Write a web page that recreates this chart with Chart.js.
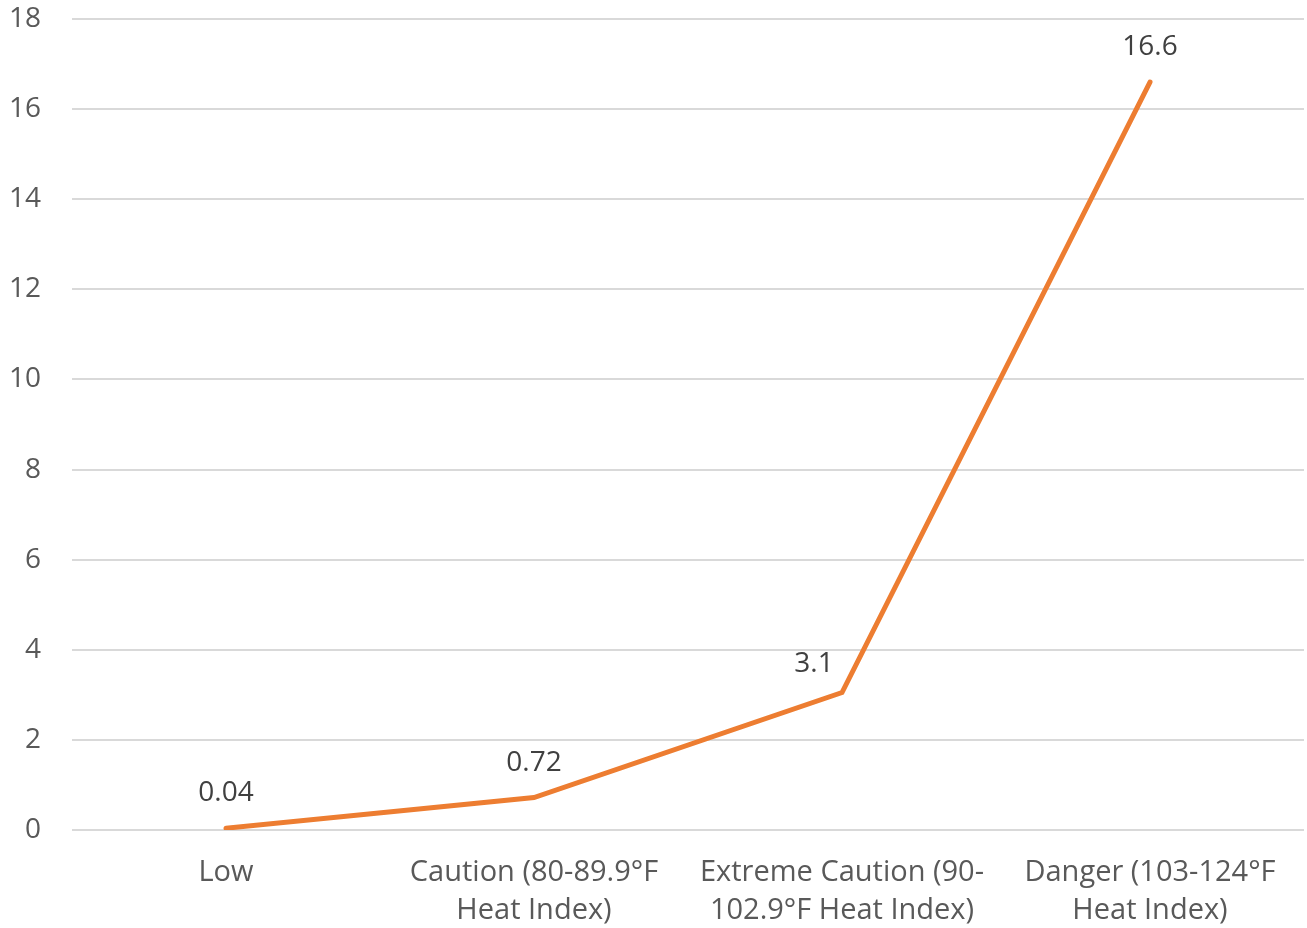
<!DOCTYPE html>
<html>
<head>
<meta charset="utf-8">
<script src="https://cdn.jsdelivr.net/npm/chart.js@4/dist/chart.umd.min.js"></script>
<style>
html,body{margin:0;padding:0;background:#fff;}
#wrap{width:1307px;height:928px;}
</style>
</head>
<body>
<div id="wrap"><canvas id="c" width="1307" height="928"></canvas></div>
<script>
const categories = [
  ["Low"],
  ["Caution (80-89.9°F", "Heat Index)"],
  ["Extreme Caution (90-", "102.9°F Heat Index)"],
  ["Danger (103-124°F", "Heat Index)"]
];
const values = [0.04, 0.72, 3.05, 16.6];
const valueLabels = ["0.04", "0.72", "3.1", "16.6"];
const yMin = 0, yMax = 18, yStep = 2;

const FONT = "'Open Sans', Inter, sans-serif";

const dataLabelPlugin = {
  id: 'dataLabels',
  afterDatasetsDraw(chart) {
    const ctx = chart.ctx;
    const meta = chart.getDatasetMeta(0);
    ctx.save();
    ctx.font = "28px " + FONT;
    ctx.fillStyle = "#404040";
    ctx.textAlign = "center";
    ctx.textBaseline = "middle";
    meta.data.forEach((pt, i) => {
      let dx = 0, dy = -35;
      if (i === 2) { dx = -28; dy = -29; }
      ctx.fillText(valueLabels[i], pt.x + dx, pt.y + dy);
    });
    ctx.restore();
  }
};

new Chart(document.getElementById('c'), {
  type: 'line',
  data: {
    labels: categories,
    datasets: [{
      data: values,
      borderColor: '#ED7D31',
      borderWidth: 5,
      pointRadius: 0,
      tension: 0,
      borderCapStyle: 'round',
      borderJoinStyle: 'miter',
      fill: false
    }]
  },
  options: {
    responsive: false,
    animation: false,
    devicePixelRatio: 1,
    layout: { padding: { top: 19, right: 3, left: 0, bottom: 0 } },
    plugins: { legend: { display: false }, tooltip: { enabled: false } },
    scales: {
      x: {
        offset: true,
        grid: { display: false, drawTicks: false },
        border: { display: false },
        ticks: {
          color: '#595959',
          font: { family: FONT, size: 29, lineHeight: 1.31 },
          padding: 24,
          maxRotation: 0,
          autoSkip: false
        },
        afterFit(s) { s.height = 98; s.paddingLeft = 0; s.paddingRight = 0; }
      },
      y: {
        min: yMin, max: yMax,
        grid: { color: '#d9d9d9', lineWidth: 2, drawTicks: false },
        border: { display: false },
        ticks: {
          stepSize: yStep,
          color: '#595959',
          font: { family: FONT, size: 28 },
          padding: 31
        },
        afterFit(s) { s.width = 72; s.paddingTop = 0; s.paddingBottom = 0; }
      }
    }
  },
  plugins: [dataLabelPlugin]
});
</script>
</body>
</html>
